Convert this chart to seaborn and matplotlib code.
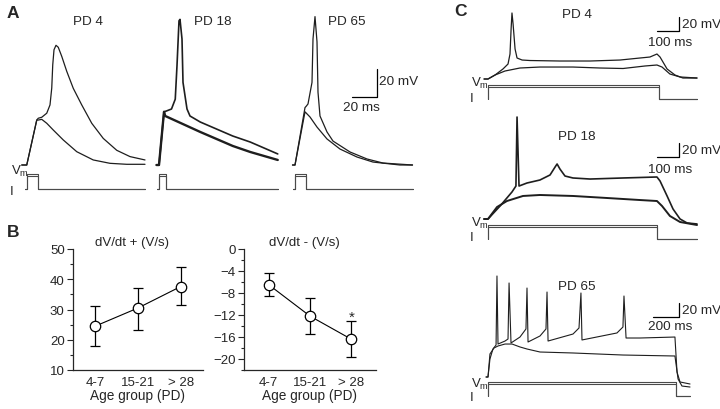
import matplotlib
matplotlib.use('Agg')
import matplotlib.pyplot as plt
from matplotlib.ticker import MultipleLocator
import numpy as np
import seaborn as sns

# ---- Panel A: brief-pulse responses (time in ms, Vm in mV above rest) ----
a4_t_up = [-4.2, -0.2, 7.8, 9, 11.8, 15.8, 18.4, 19.8, 20.6, 21.6, 23.2, 25.0, 27.8, 31.8, 37.0, 43.8, 51.8, 61.0, 71.8, 82.4, 94.4]
a4_v_up = [0, 0, 32.1, 33.4, 34.1, 37, 42.9, 55, 71.6, 82.3, 85.5, 84.1, 77.6, 66.9, 54.8, 42.9, 29.8, 19.0, 10.5, 6.0, 3.6]
a4_t_lo = [-4.2, -0.2, 7.8, 9, 11.8, 15.8, 21.0, 29.0, 39.8, 53.0, 66.4, 79.8, 94.4]
a4_v_lo = [0, 0, 32.1, 32.1, 32.6, 29.8, 25.0, 17.9, 9.5, 3.6, 1.2, 0.5, 0.5]

a18_t_up = [-2, 0, 4, 6, 10, 13, 14.4, 16, 16.8, 18.4, 19.2, 22.4, 24.8, 33, 46, 59, 73, 95]
a18_v_up = [0, 0, 38, 38.6, 40, 47, 71, 103, 104, 90, 59, 40, 35, 30.7, 25.7, 20.7, 16.4, 7.9]
a18_t_lo = [-2, 0, 4, 5, 19, 33, 46, 59, 73, 95]
a18_v_lo = [0, 0, 38, 35, 29.3, 23.6, 18.6, 13.6, 9.3, 3.6]

a65_t_up = [-2, 0, 8, 9, 10.4, 13.6, 14.4, 16, 17.6, 18.4, 20, 25.6, 30.4, 44, 57.6, 70.4, 94]
a65_v_up = [0, 0, 41, 42, 43.6, 59, 90, 106, 88, 52, 35, 23.6, 17.1, 9.3, 4.3, 1.4, 0]
a65_t_lo = [-2, 0, 8, 12, 17.6, 25.6, 36, 49.6, 62.4, 84, 94]
a65_v_lo = [0, 0, 38, 34.3, 27.1, 18.6, 11.4, 5.7, 2.1, 0, 0]

a_pulse_off = [9, 5.6, 9]
a_trace_end = [94, 95, 94]
stim_amp = [1.0, 0.85]

# ---- Panel B: dV/dt per age group ----
age_groups = ['4-7', '15-21', '> 28']
dvdt_pos = [24.5, 30.5, 37.6]
pos_hi = [31.2, 37.2, 44.2]
pos_lo = [18.0, 23.3, 31.5]
dvdt_neg = [-6.5, -12.2, -16.4]
neg_hi = [-4.4, -8.9, -13.0]
neg_lo = [-8.5, -15.5, -19.7]

# ---- Panel C: long current steps ----
c4_t_up = [-18, 0, 32, 68, 91, 100, 105, 109, 114, 123, 132, 155, 191, 327, 464, 600, 691, 736, 768, 782, 814, 850, 886, 950]
c4_v_up = [0, 0, 5.7, 14.3, 21.4, 35.7, 71.4, 94.3, 78.6, 42.9, 30, 27.1, 26.4, 25.7, 25.7, 27.1, 30, 31.4, 35.7, 31.4, 14.3, 5.7, 1.4, 1.4]
c4_t_lo = [-18, 0, 32, 77, 145, 236, 386, 509, 614, 714, 768, 791, 827, 873, 950]
c4_v_lo = [0, 0, 5.7, 11.4, 15.7, 17.1, 17.1, 15.7, 15, 18.6, 20, 17.1, 7.1, 2.9, 1.4]

c18_t_up = [-18, 0, 55, 109, 127, 132, 141, 177, 236, 282, 305, 314, 327, 350, 386, 464, 614, 768, 782, 814, 841, 873, 905, 950]
c18_v_up = [0, 0, 18.6, 38.6, 47.1, 145.7, 47.1, 51.4, 55.7, 62.9, 74.3, 78.6, 71.4, 61.4, 58.6, 57.1, 58.6, 60, 54.3, 32.9, 14.3, 0, -5.7, -7.1]
c18_t_lo = [-18, 0, 41, 86, 159, 236, 386, 541, 691, 768, 791, 827, 873, 950]
c18_v_lo = [0, 0, 17.1, 25.7, 32.9, 34.3, 32.9, 30, 27.1, 25.7, 18.6, 4.3, -4.3, -8.6]

c65_t_up = [-15, 0, 15, 38, 62, 69, 77, 131, 154, 162, 177, 246, 292, 300, 308, 400, 446, 454, 462,
            654, 700, 715, 723, 992, 1038, 1046, 1062, 1169, 1438, 1454, 1477, 1554]
c65_v_up = [0, 0, 25.7, 40, 45.7, 144.3, 47.1, 51.4, 54.3, 134.3, 48.6, 57.1, 68.6, 127.1, 50, 58.6, 68.6, 121.4, 51.4,
            61.4, 70, 120, 52.9, 62.9, 71.4, 115.7, 55.7, 55.7, 57.1, 7.1, -7.1, -10]
c65_t_lo = [-15, 0, 15, 46, 77, 131, 185, 246, 300, 400, 654, 1038, 1438, 1462, 1492, 1554]
c65_v_lo = [0, 0, 32.9, 41.4, 44.3, 47.1, 47.1, 42.9, 40, 35.7, 34.3, 31.4, 30, -2.9, -12.9, -14.3]

c_step_off = [777, 768, 1446]
c_trace_end = [950, 950, 1554]

sns.set_style('ticks')
plt.rcParams['font.family'] = ['Liberation Sans', 'DejaVu Sans']
plt.rcParams['mathtext.fontset'] = 'custom'
plt.rcParams['mathtext.rm'] = 'Liberation Sans'

W, H = 720, 410
fig = plt.figure(figsize=(7.2, 4.1), dpi=100)
TRACE = '#1e1e1e'
STIM = '#4a4a4a'


def px_axes(left, top, right, bottom):
    return fig.add_axes([left / W, 1 - bottom / H, (right - left) / W, (bottom - top) / H])


def trace_axes(ox, oy, sx, sy, xlim, ylim):
    ax = px_axes(ox + sx * xlim[0], oy - sy * ylim[1], ox + sx * xlim[1], oy - sy * ylim[0])
    ax.set_xlim(xlim)
    ax.set_ylim(ylim)
    ax.axis('off')
    return ax


def ftext(x, y, s, **kw):
    fig.text(x / W, 1 - y / H, s, **kw)


def trace(ax, t, v, lw=0.9, color=TRACE):
    sns.lineplot(x=t, y=v, ax=ax, estimator=None, sort=False, color=color, lw=lw)


def stim(ax, off, end, start=0):
    for amp in stim_amp:
        t = [start - 2, 0, 0, off, off, end]
        i = [0, 0, amp, amp, 0, 0]
        sns.lineplot(x=t, y=i, ax=ax, estimator=None, sort=False, color=STIM, lw=0.8)


def scale_bar(ax, t0, v0, dt, dv, tlabel, vlabel, tlab_xy, vlab_xy):
    ax.plot([t0, t0 + dt, t0 + dt], [v0, v0, v0 + dv], color='k', lw=0.9, clip_on=False)
    ax.text(*vlab_xy, vlabel, ha='left', va='center', fontsize=9.7)
    ax.text(*tlab_xy, tlabel, ha='center', va='center', fontsize=9.7)


def vm_i_labels(x, y_vm, y_i):
    ftext(x, y_vm, r'V$_{\rm m}$', ha='left', va='center', fontsize=9.5)
    ftext(x - 1, y_i, 'I', ha='left', va='center', fontsize=9.5)


# ---- Panel A ----
a_sets = [
    (27, a4_t_up, a4_v_up, a4_t_lo, a4_v_lo, (0.9, 0.9)),
    (159, a18_t_up, a18_v_up, a18_t_lo, a18_v_lo, (1.2, 1.7)),
    (295, a65_t_up, a65_v_up, a65_t_lo, a65_v_lo, (0.9, 0.9)),
]
a_axes = []
for k, (ox, tu, vu, tl, vl, lws) in enumerate(a_sets):
    ax = trace_axes(ox, 166, 1.25, 1.4, (-6, 100), (-5, 115))
    trace(ax, tl, vl, lw=lws[1])
    trace(ax, tu, vu, lw=lws[0])
    ai = trace_axes(ox, 190, 1.25, 15, (-6, 100), (-0.3, 1.3))
    stim(ai, a_pulse_off[k], a_trace_end[k])
    a_axes.append(ax)

scale_bar(a_axes[2], 45.6, 48.6, 20, 20, '20 ms', '20 mV', (53.2, 41.4), (67.5, 60))
for x, s in [(88, 'PD 4'), (213, 'PD 18'), (347, 'PD 65')]:
    ftext(x, 22, s, ha='center', va='center', fontsize=9.7)
vm_i_labels(11, 171, 192)

# ---- Panel C ----
c_sets = [
    (80, 100, 0.22, c4_t_up, c4_v_up, c4_t_lo, c4_v_lo, (0.9, 0.9), (-30, 960), (-15, 100)),
    (220, 240, 0.22, c18_t_up, c18_v_up, c18_t_lo, c18_v_lo, (1.2, 1.4), (-30, 960), (-15, 150)),
    (378, 397, 0.13, c65_t_up, c65_v_up, c65_t_lo, c65_v_lo, (0.8, 0.8), (-30, 1600), (-20, 150)),
]
c_axes = []
for k, (oy, iy, sx, tu, vu, tl, vl, lws, xl, yl) in enumerate(c_sets):
    ax = trace_axes(488, oy, sx, 0.7, xl, yl)
    trace(ax, tl, vl, lw=lws[1])
    trace(ax, tu, vu, lw=lws[0])
    ai = trace_axes(488, iy, sx, 14, xl, (-0.3, 1.3))
    stim(ai, c_step_off[k], c_trace_end[k])
    c_axes.append(ax)

scale_bar(c_axes[0], 768, 68.6, 100, 20, '100 ms', '20 mV', (827, 52.9), (882, 79))
scale_bar(c_axes[1], 768, 88.6, 100, 20, '100 ms', '20 mV', (827, 71.4), (882, 98))
scale_bar(c_axes[2], 1269, 85.7, 200, 20, '200 ms', '20 mV', (1400, 72.9), (1492, 96))
for y, s in [(15, 'PD 4'), (137, 'PD 18'), (287, 'PD 65')]:
    ftext(577, y, s, ha='center', va='center', fontsize=9.7)
vm_i_labels(471, 83, 99)
vm_i_labels(471, 223, 238)
vm_i_labels(471, 384, 398)

# ---- Panel B ----
def dvdt_plot(box, mean, lo, hi, ylim, major, minor, xlim, title, title_x):
    ax = px_axes(*box)
    x = np.arange(len(age_groups))
    mean = np.array(mean)
    yerr = [mean - np.array(lo), np.array(hi) - mean]
    ax.errorbar(x, mean, yerr=yerr, fmt='none', ecolor='k', elinewidth=0.9,
                capsize=3.6, capthick=0.9, zorder=2)
    sns.lineplot(x=x, y=mean, ax=ax, color='k', lw=0.8, marker='o', markersize=7.5,
                 markerfacecolor='white', markeredgecolor='k', markeredgewidth=0.9, zorder=3)
    ax.set_xlim(xlim)
    ax.set_ylim(ylim)
    ax.set_xticks(x)
    ax.set_xticklabels(age_groups)
    ax.yaxis.set_major_locator(MultipleLocator(major))
    ax.yaxis.set_minor_locator(MultipleLocator(minor))
    ax.tick_params(axis='y', which='major', direction='out', length=4.5, width=0.8, labelsize=9.5, pad=1.5)
    ax.tick_params(axis='y', which='minor', direction='out', length=2.5, width=0.8)
    ax.tick_params(axis='x', length=0, labelsize=9.5, pad=4)
    ax.set_xlabel('Age group (PD)', fontsize=9.8, labelpad=0.5)
    ax.set_ylabel('')
    sns.despine(ax=ax)
    for sp in ax.spines.values():
        sp.set_linewidth(0.9)
    ftext(title_x, 243, title, ha='center', va='center', fontsize=9.5)
    return ax


dvdt_plot((73, 250, 203, 371), dvdt_pos, pos_lo, pos_hi, (10, 50), 10, 5, (-0.52, 2.52),
          'dV/dt + (V/s)', 132)
axn = dvdt_plot((244, 250, 376, 371), dvdt_neg, neg_lo, neg_hi, (-22, 0), 4, 2, (-0.6, 2.6),
                'dV/dt - (V/s)', 304)
axn.set_yticks([0, -4, -8, -12, -16, -20])
axn.text(2, -12.3, '*', ha='center', va='center', fontsize=11)

# panel letters
ftext(7, 13, 'A', ha='left', va='center', fontsize=12.5, fontweight='bold')
ftext(7, 233, 'B', ha='left', va='center', fontsize=12.5, fontweight='bold')
ftext(454, 12, 'C', ha='left', va='center', fontsize=12.5, fontweight='bold')

fig.savefig('out.png', dpi=100, facecolor='white')
print('Saved out.png')
